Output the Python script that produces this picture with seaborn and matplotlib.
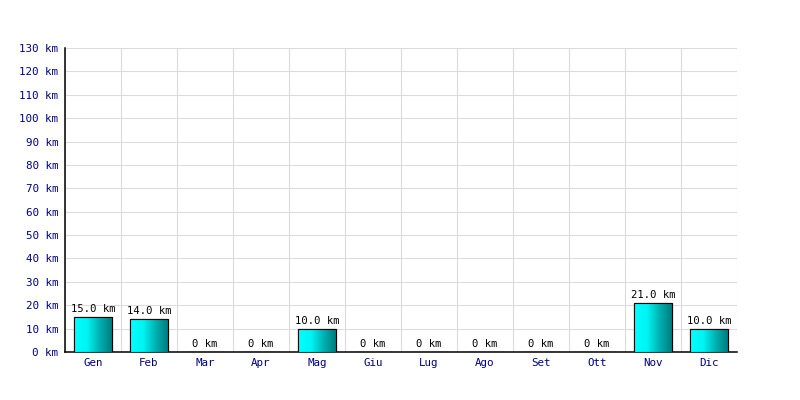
import numpy as np
import pandas as pd
import matplotlib
matplotlib.use("Agg")
import matplotlib.pyplot as plt
import seaborn as sns
from matplotlib.colors import LinearSegmentedColormap

months = ['Gen', 'Feb', 'Mar', 'Apr', 'Mag', 'Giu', 'Lug', 'Ago', 'Set', 'Ott', 'Nov', 'Dic']
km = [15.0, 14.0, 0, 0, 10.0, 0, 0, 0, 0, 0, 21.0, 10.0]
yticks = list(range(0, 131, 10))

df = pd.DataFrame({'Mese': months, 'Km': km})

sns.set_style('white')
plt.rcParams['font.family'] = ['DejaVu Sans Mono']

fig = plt.figure(figsize=(8, 4), dpi=100)
ax = fig.add_axes([65 / 800, 0.12, 672 / 800, 304 / 400])

sns.barplot(data=df, x='Mese', y='Km', ax=ax, width=0.68, color='#00ffff',
            edgecolor='black', linewidth=0.8, zorder=3)

# horizontal gradient fill, cyan -> teal
cmap = LinearSegmentedColormap.from_list('cy', ['#00ffff', '#00f4f4', '#00b0b0', '#007878'])
grad = np.linspace(0, 1, 256).reshape(1, -1)
for p in ax.patches:
    h = p.get_height()
    if h <= 0:
        continue
    x0, w = p.get_x(), p.get_width()
    im = ax.imshow(grad, extent=[x0, x0 + w, 0, h], aspect='auto', cmap=cmap,
                   zorder=3.5, origin='lower')
    im.set_clip_path(p)
    ax.add_patch(plt.Rectangle((x0, 0), w, h, fill=False, edgecolor='black',
                               linewidth=0.8, zorder=4))

for i, v in enumerate(km):
    lbl = f'{v:.1f} km' if v > 0 else '0 km'
    ax.text(i, v + 1.2, lbl, ha='center', va='bottom', fontsize=7.6, color='black', zorder=5)

ax.set_xlim(-0.5, 11.5)
ax.set_ylim(0, 130)
ax.set_yticks(yticks)
ax.set_yticklabels([f'{t} km' for t in yticks])
ax.set_xticks(range(12))
ax.set_xticklabels(months)
ax.set_xticks(np.arange(-0.5, 12, 1), minor=True)
ax.grid(True, axis='y', color='#dcdcdc', linewidth=0.8, zorder=0)
ax.grid(True, axis='x', which='minor', color='#dcdcdc', linewidth=0.8, zorder=0)
ax.grid(False, axis='x', which='major')
ax.set_axisbelow(True)
ax.set_xlabel('')
ax.set_ylabel('')

ax.tick_params(axis='both', which='major', labelsize=7.8, labelcolor='#000080', length=0)
ax.tick_params(axis='x', which='minor', length=0)
ax.tick_params(axis='y', pad=5)
ax.tick_params(axis='x', pad=4)

for s in ['top', 'right']:
    ax.spines[s].set_visible(False)
for s in ['left', 'bottom']:
    ax.spines[s].set_color('black')
    ax.spines[s].set_linewidth(1.1)

fig.savefig('out.png', dpi=100, facecolor='white')
